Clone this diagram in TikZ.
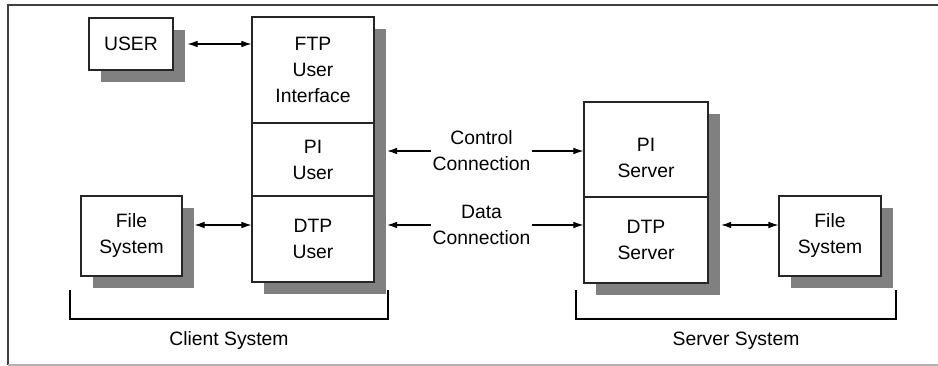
\documentclass[tikz,border=0pt]{standalone}
\usepackage{fontspec}
\setmainfont{Liberation Sans}
\usetikzlibrary{arrows.meta,shadows}

\begin{document}
\begin{tikzpicture}[x=0.75pt, y=-0.75pt,
    every node/.style={font=\fontsize{14.5}{19.5}\selectfont, align=center, inner sep=1pt},
    caja/.style={rectangle, draw=black!85, line width=0.8pt, fill=white,
      drop shadow={shadow xshift=9pt, shadow yshift=-9pt, opacity=1, fill=black!50}},
    flecha/.style={line width=0.8pt, {Latex[length=7.5pt,width=5pt]}-{Latex[length=7.5pt,width=5pt]}},
    punta/.style={line width=0.8pt, -{Latex[length=7.5pt,width=5pt]}}
]
\useasboundingbox (0,0) rectangle (938,366);

% ---- Marco ----
\draw[line width=1.5pt, black!75] (938,5) -- (8,5) -- (8,365);
\draw[line width=0.8pt, black!30] (8,365) -- (938,365);

% ---- Sistema cliente ----
\node[caja, minimum width=63pt, minimum height=39pt] (usr) at (131,44) {USER};
\node[caja, minimum width=91.5pt, minimum height=79.5pt] (ftp) at (313,70) {FTP\\User\\Interface};
\node[caja, minimum width=91.5pt, minimum height=54.75pt] (piu) at (313,159.5) {PI\\User};
\node[caja, minimum width=91.5pt, minimum height=64.5pt] (dtpu) at (313,239) {DTP\\User};
\node[caja, minimum width=75.75pt, minimum height=60pt] (fsc) at (131.5,236) {File\\System};

% ---- Sistema servidor ----
\node[caja, minimum width=93pt, minimum height=71.25pt,
  label={[yshift=-6pt]center:{PI\\Server}}] (pis) at (646,149.5) {};
\node[caja, minimum width=93pt, minimum height=64.5pt] (dtps) at (646,240) {DTP\\Server};
\node[caja, minimum width=76.5pt, minimum height=60pt] (fss) at (830,236) {File\\System};

% Conexiones
\node (ctl) at (481.5,151) {Control\\Connection};
\node (dat) at (481.5,225) {Data\\Connection};

% Flechas
\draw[flecha] ([xshift=10.5pt]usr.east) -- (ftp.west |- usr.east);
\draw[flecha] ([xshift=9pt]fsc.east |- dat.west) -- (dtpu.west |- dat.west);
\draw[punta] (ctl.west) -- ([xshift=9.5pt]piu.east |- ctl.west);
\draw[punta] (ctl.east) -- (pis.west |- ctl.east);
\draw[punta] (dat.west) -- ([xshift=9.5pt]dtpu.east |- dat.west);
\draw[punta] (dat.east) -- (dtps.west |- dat.east);
\draw[flecha] ([xshift=9.5pt]dtps.east |- dat.east) -- (fss.west |- dat.east);

% ---- Llaves ----
\draw[line width=0.8pt] (70,290) -- (70,319) -- (388,319) -- (388,290);
\node (cli) at (229,341) {Client System};
\draw[line width=0.8pt] (576,290) -- (576,319) -- (896,319) -- (896,290);
\node (srv) at (736,341) {Server System};

\end{tikzpicture}
\end{document}
